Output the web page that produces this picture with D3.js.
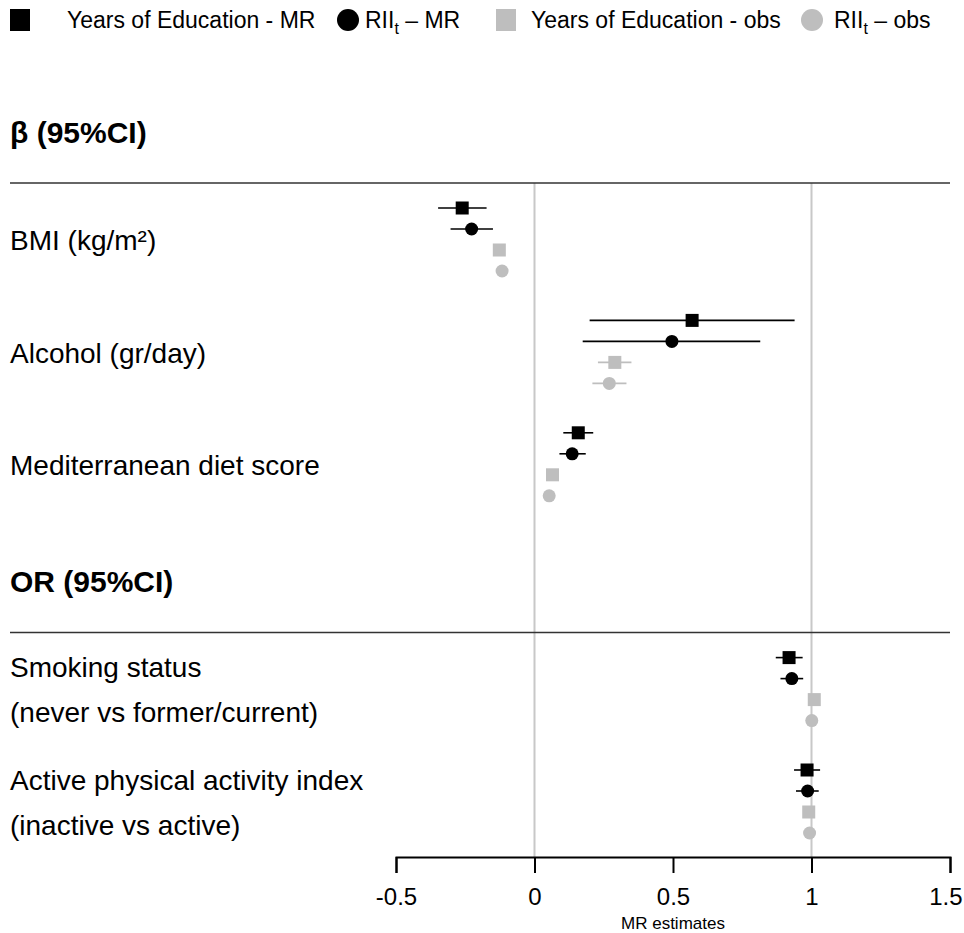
<!DOCTYPE html>
<html>
<head>
<meta charset="utf-8">
<script src="https://cdn.jsdelivr.net/npm/d3@7"></script>
<style>
  html, body { margin: 0; padding: 0; background: #fff; }
  svg { display: block; font-family: "Liberation Sans", Arial, sans-serif; }
</style>
</head>
<body>
<svg id="chart" width="964" height="933"></svg>
<script>
// ---------- data ----------
const outcomes = [
  ["BMI (kg/m²)"],
  ["Alcohol (gr/day)"],
  ["Mediterranean diet score"],
  ["Smoking status", "(never vs former/current)"],
  ["Active physical activity index", "(inactive vs active)"]
];
const outcomeSlots = [0, 1, 2, 4, 5];
const sections = ["β (95%CI)", "OR (95%CI)"];
const sectionSlots = [0, 4];

const seriesNames = ["Years of Education - MR", "RII_t – MR", "Years of Education - obs", "RII_t – obs"];
const seriesShapes = ["square", "circle", "square", "circle"];
const seriesColors = ["#000000", "#000000", "#bebebe", "#bebebe"];

const eduMR_est  = [-0.261, 0.569, 0.158, 0.919, 0.984];
const eduMR_lo   = [-0.348, 0.199, 0.104, 0.871, 0.937];
const eduMR_hi   = [-0.173, 0.939, 0.212, 0.968, 1.031];
const riiMR_est  = [-0.227, 0.496, 0.136, 0.929, 0.986];
const riiMR_lo   = [-0.303, 0.174, 0.090, 0.888, 0.944];
const riiMR_hi   = [-0.150, 0.815, 0.185, 0.970, 1.026];
const eduObs_est = [-0.127, 0.290, 0.065, 1.010, 0.990];
const eduObs_lo  = [-0.137, 0.229, 0.058, 1.000, 0.982];
const eduObs_hi  = [-0.117, 0.350, 0.072, 1.020, 0.998];
const riiObs_est = [-0.117, 0.270, 0.053, 1.001, 0.993];
const riiObs_lo  = [-0.127, 0.209, 0.046, 0.992, 0.985];
const riiObs_hi  = [-0.107, 0.332, 0.060, 1.010, 1.001];

const tickValues = [-0.5, 0, 0.5, 1, 1.5];
const tickLabels = ["-0.5", "0", "0.5", "1", "1.5"];
const refLines = [0, 1];
const xTitle = "MR estimates";

// ---------- build ----------
const seriesEst = [eduMR_est, riiMR_est, eduObs_est, riiObs_est];
const seriesLo  = [eduMR_lo, riiMR_lo, eduObs_lo, riiObs_lo];
const seriesHi  = [eduMR_hi, riiMR_hi, eduObs_hi, riiObs_hi];

const svg = d3.select("#chart");
const x = d3.scaleLinear().domain([-0.5, 1.5]).range([396, 950]);
const slotY = d3.scaleLinear().domain([0, 5]).range([208, 770]);
const rowOff = d3.scaleLinear().domain([0, 3]).range([0, 63]);

const points = [];
outcomes.forEach((o, i) => {
  seriesNames.forEach((s, k) => {
    points.push({
      y: slotY(outcomeSlots[i]) + rowOff(k),
      est: seriesEst[k][i], lo: seriesLo[k][i], hi: seriesHi[k][i],
      shape: seriesShapes[k], color: seriesColors[k]
    });
  });
});

// reference lines
svg.selectAll("line.ref").data(refLines).enter().append("line")
  .attr("class", "ref")
  .attr("x1", d => x(d)).attr("x2", d => x(d))
  .attr("y1", 183).attr("y2", 857)
  .attr("stroke", "#c8c8c8").attr("stroke-width", 2);

// section headers and rules
sections.forEach((s, i) => {
  const y0 = slotY(sectionSlots[i]);
  svg.append("text").attr("x", 10).attr("y", y0 - 76).attr("dy", "0.35em")
    .attr("font-size", 30).attr("font-weight", "bold").attr("fill", "#000").text(s);
  svg.append("line").attr("x1", 10).attr("x2", 950)
    .attr("y1", y0 - 25).attr("y2", y0 - 25)
    .attr("stroke", "#333").attr("stroke-width", 1.5);
});

// outcome labels
outcomes.forEach((lines, i) => {
  const yc = slotY(outcomeSlots[i]) + rowOff(1.5);
  const n = lines.length;
  lines.forEach((t, j) => {
    svg.append("text").attr("x", 10)
      .attr("y", yc + 1 + (j - (n - 1) / 2) * 45)
      .attr("dy", "0.35em")
      .attr("font-size", 28).attr("fill", "#000").text(t);
  });
});

// error bars
svg.selectAll("line.ci").data(points).enter().append("line")
  .attr("class", "ci")
  .attr("x1", d => x(d.lo)).attr("x2", d => x(d.hi))
  .attr("y1", d => d.y).attr("y2", d => d.y)
  .attr("stroke", d => d.color).attr("stroke-width", 1.6);

// markers
const sq = 13, cr = 6.5;
svg.selectAll("rect.pt").data(points.filter(d => d.shape === "square")).enter().append("rect")
  .attr("class", "pt")
  .attr("x", d => x(d.est) - sq / 2).attr("y", d => d.y - sq / 2)
  .attr("width", sq).attr("height", sq).attr("fill", d => d.color);
svg.selectAll("circle.pt").data(points.filter(d => d.shape === "circle")).enter().append("circle")
  .attr("class", "pt")
  .attr("cx", d => x(d.est)).attr("cy", d => d.y).attr("r", cr)
  .attr("fill", d => d.color);

// axis
const axis = d3.axisBottom(x).tickValues(tickValues)
  .tickFormat((d, i) => tickLabels[i]).tickSize(16).tickSizeOuter(16).tickPadding(15);
const ag = svg.append("g").attr("transform", "translate(0,857)").call(axis);
ag.select(".domain").attr("stroke", "#000").attr("stroke-width", 2);
ag.selectAll(".tick line").attr("stroke", "#000").attr("stroke-width", 2);
ag.selectAll(".tick text").attr("font-size", 24).attr("fill", "#000")
  .attr("font-family", "'Liberation Sans', Arial, sans-serif");
// keep the last label inside the page
ag.selectAll(".tick text").filter((d, i, n) => i === n.length - 1)
  .attr("text-anchor", "end").attr("x", 962 - x(1.5));
svg.append("text").attr("x", x(0.5)).attr("y", 923).attr("dy", "0.35em").attr("text-anchor", "middle")
  .attr("font-size", 17).attr("fill", "#000").text(xTitle);

// legend
const legX = [10, 337, 496, 801];
const legTextX = [67, 365, 531, 834];
seriesNames.forEach((name, k) => {
  const g = svg.append("g");
  if (seriesShapes[k] === "square") {
    g.append("rect").attr("x", legX[k]).attr("y", 9).attr("width", 20).attr("height", 22)
      .attr("fill", seriesColors[k]);
  } else {
    g.append("circle").attr("cx", legX[k] + 11).attr("cy", 20).attr("r", 11)
      .attr("fill", seriesColors[k]);
  }
  const t = g.append("text").attr("x", legTextX[k]).attr("y", 20).attr("dy", "0.35em")
    .attr("font-size", 23).attr("fill", "#000");
  if (name.startsWith("RII_t")) {
    t.append("tspan").text("RII");
    t.append("tspan").attr("font-size", 16).attr("dy", 6).text("t");
    t.append("tspan").attr("dy", -6).text(name.slice(5));
  } else {
    t.text(name);
  }
});
</script>
</body>
</html>
